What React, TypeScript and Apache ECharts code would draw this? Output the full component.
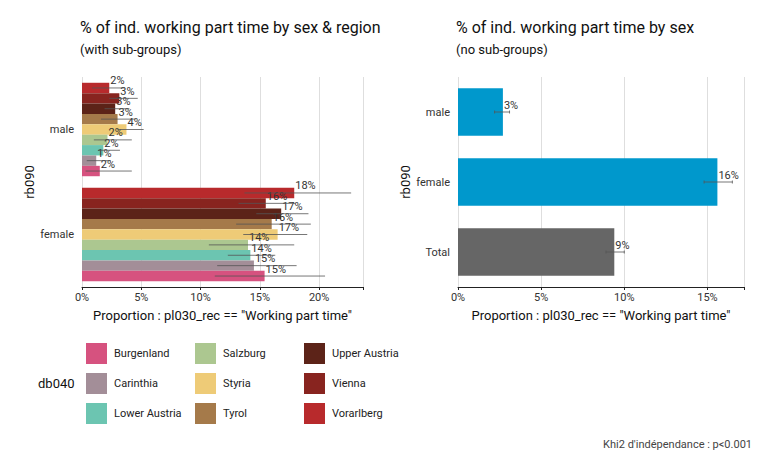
import React, { useEffect, useRef } from 'react';
import * as echarts from 'echarts';

const regions = ['Burgenland', 'Carinthia', 'Lower Austria', 'Salzburg', 'Styria', 'Tyrol', 'Upper Austria', 'Vienna', 'Vorarlberg'];
const regionColors = ['#D6527F', '#A38E98', '#6CC5B1', '#ACC790', '#EECB77', '#A57A4A', '#5C2318', '#88241F', '#B82A2C'];
const sexes = ['female', 'male'];
// [female, male] per region
const regionValues = [
  [15.4, 1.5], [14.5, 1.2], [14.2, 1.8], [14.0, 2.15], [16.5, 3.75],
  [16.0, 3.0], [16.8, 2.8], [15.5, 3.15], [17.9, 2.3],
];
const regionLow = [
  [11.2, 0.3], [11.4, 0.4], [12.3, 1.5], [10.7, 1.0], [13.6, 3.0],
  [13.0, 1.6], [14.7, 1.9], [13.2, 2.3], [13.7, 0.85],
];
const regionHigh = [
  [20.5, 4.2], [18.1, 2.4], [16.3, 3.2], [17.9, 4.2], [19.0, 5.2],
  [19.3, 4.5], [19.1, 4.0], [18.0, 4.7], [22.7, 3.6],
];

const totalCats = ['Total', 'female', 'male'];
const totalValues = [9.4, 15.6, 2.7];
const totalLow = [8.9, 14.8, 2.2];
const totalHigh = [10.0, 16.5, 3.1];

const App: React.FC = () => {
  const ref = useRef<HTMLDivElement | null>(null);

  useEffect(() => {
    const chart = echarts.init(ref.current!, null, { renderer: 'svg' });
    const font = 'Roboto';
    const gap = 0.11;
    const n = regions.length;

    const errData: number[][] = [];
    regions.forEach((_, k) => sexes.forEach((_, c) => errData.push([regionLow[k][c], regionHigh[k][c], c, k])));

    // first bar series is drawn at the top of each band, so Vorarlberg goes first
    const leftSeries: any[] = regions.map((r, k) => ({
      name: r, type: 'bar', xAxisIndex: 0, yAxisIndex: 0, barGap: '0%', barCategoryGap: gap * 100 + '%',
      itemStyle: { color: regionColors[k] },
      data: regionValues[k],
      label: {
        show: true, position: 'right', distance: 1, offset: [0, -7],
        formatter: (p: any) => Math.round(p.value) + '%', color: '#333', fontSize: 11, fontFamily: font,
      },
    })).reverse();

    const errItem = (lo: number, hi: number, yc: number, api: any, h: number) => {
      const a = api.coord([lo, 0])[0];
      const b = api.coord([hi, 0])[0];
      const style = { stroke: '#555', lineWidth: 1, opacity: 0.8 };
      return {
        type: 'group', children: [
          { type: 'line', shape: { x1: a, y1: yc, x2: b, y2: yc }, style },
          { type: 'line', shape: { x1: a, y1: yc - h, x2: a, y2: yc + h }, style },
          { type: 'line', shape: { x1: b, y1: yc - h, x2: b, y2: yc + h }, style },
        ],
      };
    };

    const option: any = {
      animation: false,
      textStyle: { fontFamily: font },
      title: [
        { text: '% of ind. working part time by sex & region', subtext: '(with sub-groups)', left: 67, top: 6,
          textStyle: { fontSize: 16, fontWeight: 'normal', color: '#111' }, subtextStyle: { fontSize: 13, color: '#111' }, itemGap: 8 },
        { text: '% of ind. working part time by sex', subtext: '(no sub-groups)', left: 443, top: 6,
          textStyle: { fontSize: 16, fontWeight: 'normal', color: '#111' }, subtextStyle: { fontSize: 13, color: '#111' }, itemGap: 8 },
      ],
      grid: [
        { left: 74, width: 281, top: 69, height: 210 },
        { left: 450, width: 286, top: 69, height: 210 },
      ],
      xAxis: [0, 1].map((i) => ({
        type: 'value', gridIndex: i, min: 0, max: i === 0 ? 23.7 : 17.2, interval: 5,
        name: 'Proportion : pl030_rec == "Working part time"', nameLocation: 'middle', nameGap: 22,
        nameTextStyle: { fontSize: 13, color: '#111' },
        axisLine: { show: true, lineStyle: { color: '#222' } }, axisTick: { show: true, length: 3, lineStyle: { color: '#222' } },
        axisLabel: { formatter: (v: number) => (v % 5 === 0 ? v + '%' : ''), color: '#333', fontSize: 11, margin: 5 },
        splitLine: { lineStyle: { color: '#dedede' } },
      })),
      yAxis: [
        { type: 'category', gridIndex: 0, data: sexes, name: 'rb090', nameLocation: 'middle', nameGap: 45,
          nameTextStyle: { fontSize: 13, color: '#111' }, axisLine: { show: false }, axisTick: { show: false },
          axisLabel: { color: '#333', fontSize: 11 } },
        { type: 'category', gridIndex: 1, data: totalCats, name: 'rb090', nameLocation: 'middle', nameGap: 45,
          nameTextStyle: { fontSize: 13, color: '#111' }, axisLine: { show: false }, axisTick: { show: false },
          axisLabel: { color: '#333', fontSize: 11 } },
      ],
      series: [
        ...leftSeries,
        {
          type: 'custom', xAxisIndex: 0, yAxisIndex: 0, data: errData, z: 5,
          renderItem: (_: any, api: any) => {
            const c = api.value(2), k = api.value(3);
            const center = api.coord([0, c])[1];
            const usable = api.size([0, 1])[1] * (1 - gap);
            const h = usable / n;
            const yc = center + usable / 2 - (k + 0.5) * h;
            return errItem(api.value(0), api.value(1), yc, api, 0);
          },
        },
        {
          type: 'bar', xAxisIndex: 1, yAxisIndex: 1, barCategoryGap: '32%',
          data: totalValues.map((v, i) => ({ value: v, itemStyle: { color: totalCats[i] === 'Total' ? '#666666' : '#0098CC' } })),
          label: { show: true, position: 'right', distance: 1, offset: [0, -7],
            formatter: (p: any) => Math.round(p.value) + '%', color: '#333', fontSize: 11 },
        },
        {
          type: 'custom', xAxisIndex: 1, yAxisIndex: 1, z: 5,
          data: totalCats.map((_, i) => [totalLow[i], totalHigh[i], i]),
          renderItem: (_: any, api: any) => errItem(api.value(0), api.value(1), api.coord([0, api.value(2)])[1], api, 1.5),
        },
      ],
      graphic: [
        { type: 'text', left: 30, top: 369, style: { text: 'db040', fontSize: 13, fill: '#111', fontFamily: font } },
        ...regions.flatMap((r, k) => {
          const col = Math.floor(k / 3), row = k % 3;
          const x = 78 + col * 109, y = 335 + row * 30;
          return [
            { type: 'rect', shape: { x, y, width: 21, height: 21 }, style: { fill: regionColors[k] } },
            { type: 'text', x: x + 28, y: y + 5, style: { text: r, fontSize: 11, fill: '#222', fontFamily: font } },
          ];
        }),
        { type: 'text', right: 8, top: 431, style: { text: "Khi2 d'indépendance : p<0.001", fontSize: 11, fill: '#444', fontFamily: font } },
      ],
    };

    chart.setOption(option);
    return () => chart.dispose();
  }, []);

  return <div ref={ref} style={{ width: '752px', height: '458px' }} />;
};

export default App;
